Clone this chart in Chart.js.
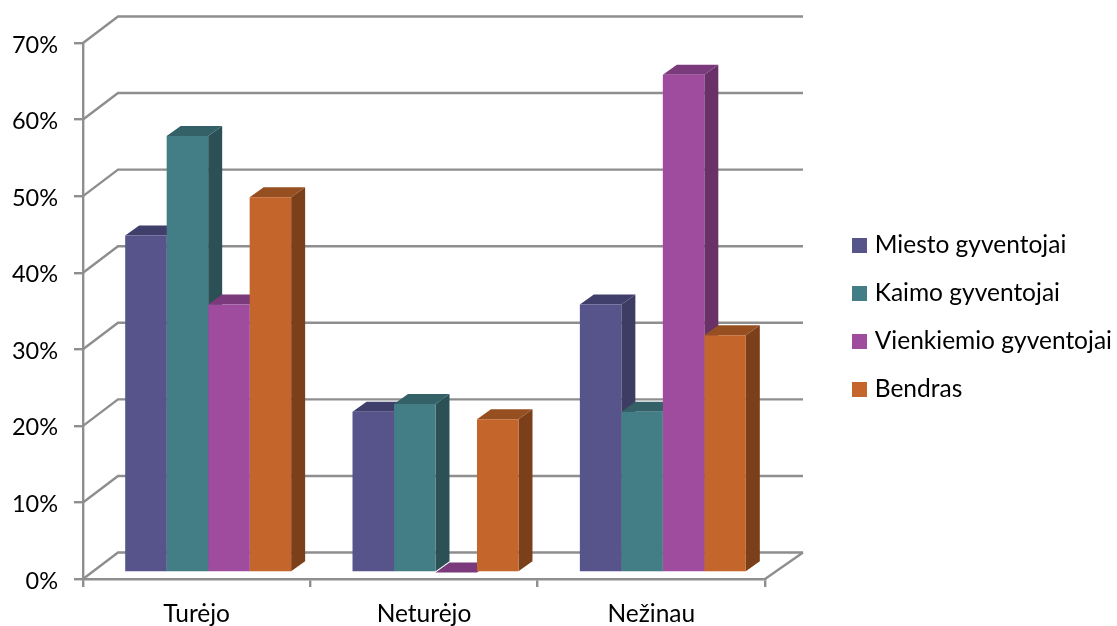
<!DOCTYPE html>
<html>
<head>
<meta charset="utf-8">
<style>
  html, body { margin: 0; padding: 0; background: #fff; }
  #wrap { width: 1117px; height: 626px; position: relative; }
</style>
<script src="https://cdn.jsdelivr.net/npm/chart.js@4/dist/chart.umd.min.js"></script>
</head>
<body>
<div id="wrap"><canvas id="chart" width="1117" height="626"></canvas></div>
<script>
const categories = ['Turėjo', 'Neturėjo', 'Nežinau'];
const seriesNames = ['Miesto gyventojai', 'Kaimo gyventojai', 'Vienkiemio gyventojai', 'Bendras'];
const miesto = [44, 21, 35];
const kaimo = [57, 22, 21];
const vienkiemio = [35, 0, 65];
const bendras = [49, 20, 31];
const frontColors = ['#56548a', '#437d85', '#9f4c9f', '#c4652b'];
const topColors = ['#403f6b', '#336167', '#7b3a7b', '#964f21'];
const sideColors = ['#3d3c63', '#2b5156', '#6a3169', '#7b3f1a'];

const seriesValues = [miesto, kaimo, vienkiemio, bendras];
const fontFamily = 'Lato, "Open Sans", sans-serif';
const labelSize = 24.5;
const axisColor = '#8e8e8e';

// Wall and box depth of the oblique projection, in pixels.
const wallDx = 35, wallDy = -26.5;
const barDx = 14, barDy = -10, barShiftX = 11.5, barShiftY = -6.5;

function swatch(color) {
  const c = document.createElement('canvas');
  c.width = 15; c.height = 15;
  const g = c.getContext('2d');
  g.fillStyle = color;
  g.fillRect(0, 0, 15, 15);
  return c;
}

function poly(ctx, pts, fill) {
  ctx.beginPath();
  pts.forEach((p, i) => i ? ctx.lineTo(p[0], p[1]) : ctx.moveTo(p[0], p[1]));
  ctx.closePath();
  ctx.fillStyle = fill;
  ctx.fill();
}

const oblique = {
  id: 'oblique',
  afterLayout(chart) {
    // The legend sits in the free band right of the plot walls.
    const lg = chart.legend;
    const pad = lg.options.labels.padding;
    lg.left = 856.5 - pad;
    lg.right = 1117;
    lg.top = 102;
    lg.bottom = 532;
  },
  beforeDatasetsDraw(chart) {
    const { ctx, scales: { y }, chartArea: a } = chart;
    // Back wall and floor lines.
    ctx.save();
    ctx.strokeStyle = axisColor;
    ctx.lineWidth = 2.4;
    y.ticks.forEach((t, i) => {
      const py = y.getPixelForTick(i);
      ctx.beginPath();
      ctx.moveTo(a.left, py);
      ctx.lineTo(a.left + wallDx, py + wallDy);
      ctx.lineTo(a.right + wallDx + 3, py + wallDy);
      ctx.stroke();
    });
    ctx.beginPath();
    ctx.moveTo(a.right, a.bottom);
    ctx.lineTo(a.right + wallDx + 3, a.bottom + wallDy);
    ctx.stroke();
    ctx.restore();

    // Move the bars back off the front edge; undone in afterDatasetsDraw.
    ctx.save();
    ctx.translate(barShiftX, barShiftY);
    categories.forEach((_, ci) => {
      seriesValues.forEach((__, si) => {
        const b = chart.getDatasetMeta(si).data[ci];
        const { x, y: top, base, width } = b.getProps(['x', 'y', 'base', 'width'], true);
        const l = x - width / 2, r = x + width / 2;
        poly(ctx, [[r, top], [r + barDx, top + barDy], [r + barDx, base + barDy], [r, base]], sideColors[si]);
        poly(ctx, [[l, top], [l + barDx, top + barDy], [r + barDx, top + barDy], [r, top]], topColors[si]);
      });
    });
  },
  afterDatasetsDraw(chart) {
    chart.ctx.restore();
  }
};

new Chart(document.getElementById('chart'), {
  type: 'bar',
  data: {
    labels: categories,
    datasets: seriesNames.map((name, i) => ({
      label: name,
      data: seriesValues[i],
      backgroundColor: frontColors[i],
      borderWidth: 0,
      categoryPercentage: 0.73,
      barPercentage: 1
    }))
  },
  options: {
    responsive: false,
    animation: false,
    layout: { padding: { top: 43, right: 352, bottom: 0, left: 0 } },
    scales: {
      x: {
        afterFit(s) { s.height = 47; },
        grid: { drawOnChartArea: false, color: axisColor, lineWidth: 2.4, tickLength: 8 },
        border: { color: axisColor, width: 2.4 },
        ticks: { color: '#000', padding: 12, font: { family: fontFamily, size: labelSize } }
      },
      y: {
        min: 0,
        max: 70,
        afterFit(s) { s.width = 83; },
        grid: { drawOnChartArea: false, color: axisColor, lineWidth: 2.4, tickLength: 9 },
        border: { color: axisColor, width: 2.4 },
        ticks: {
          stepSize: 10,
          color: '#000',
          padding: 16,
          labelOffset: 2,
          font: { family: fontFamily, size: 23.5 },
          callback: v => v + '%'
        }
      }
    },
    plugins: {
      tooltip: { enabled: false },
      legend: {
        position: 'chartArea',
        align: 'center',
        labels: {
          color: '#000',
          font: { family: fontFamily, size: labelSize },
          usePointStyle: true,
          boxWidth: 6,
          padding: 23.5,
          generateLabels: () => seriesNames.map((text, i) => ({
            text,
            fillStyle: frontColors[i],
            strokeStyle: frontColors[i],
            lineWidth: 0,
            pointStyle: swatch(frontColors[i]),
            datasetIndex: i
          }))
        }
      }
    }
  },
  plugins: [oblique]
});
</script>
</body>
</html>
